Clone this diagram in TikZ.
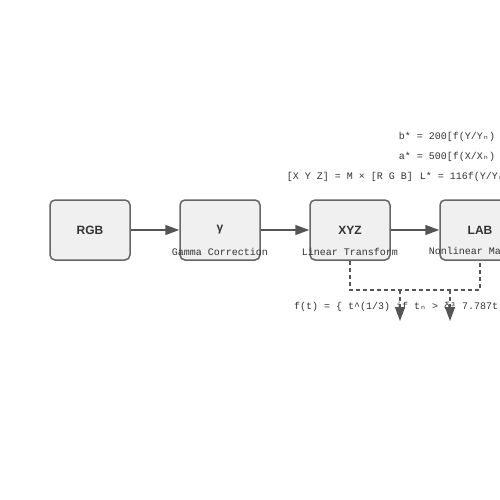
\documentclass[tikz,border=0pt]{standalone}
\usepackage{fontspec}
\setmainfont{Liberation Sans}
\newfontfamily\monof{Liberation Mono}
\newfontfamily\dvm{DejaVu Sans Mono}
\usetikzlibrary{arrows.meta}
\definecolor{boxfill}{HTML}{F0F0F0}
\definecolor{boxline}{HTML}{666666}
\definecolor{txt}{HTML}{333333}
\definecolor{arr}{HTML}{555555}
\newcommand{\sbn}{{\dvm ₙ}}
\begin{document}
\begin{tikzpicture}[x=1pt,y=-1pt,
  stage/.style={draw=boxline, line width=1.5pt, fill=boxfill, rounded corners=5pt,
    minimum width=80pt, minimum height=60pt, inner sep=0pt,
    font=\fontsize{12}{14}\selectfont\bfseries, text=txt},
  sub/.style={font=\monof\fontsize{10}{12}\selectfont, text=txt, inner sep=0pt},
  formula/.style={font=\monof\fontsize{10}{12}\selectfont, text=txt, inner sep=0pt},
  flow/.style={draw=arr, line width=1.5pt, -{Triangle[length=14pt,width=10pt]}},
  dashline/.style={draw=arr, line width=1.2pt, dash pattern=on 4pt off 3pt},
  dashar/.style={draw=arr, line width=1.2pt, dash pattern=on 4pt off 3pt, -{Triangle[length=14pt,width=10pt]}}
]
\useasboundingbox (0,0) rectangle (500,500);
\begin{scope}
\clip (0,0) rectangle (500,500);
\node[stage] (rgb) at (90,230) {RGB};
\node[stage] (gam) at (220,230) {γ};
\node[stage] (xyz) at (350,230) {XYZ};
\node[stage] (lab) at (480,230) {LAB};

\node[sub] (gamL) at (220,252) {Gamma Correction};
\node[sub] (xyzL) at (350,252) {Linear Transform};
\node[sub] (labL) at (480,252) {Nonlinear Mapping};

\node[formula] (fm) at (350,177) {[X Y Z] = M × [R G B]};
\node[formula] (fl) at (480,177) {L* = 116f(Y/Y\sbn) - 16};
\node[formula] (fa) at (480,157) {a* = 500[f(X/X\sbn) - f(Y/Y\sbn)]};
\node[formula] (fb) at (480,137) {b* = 200[f(Y/Y\sbn) - f(Z/Z\sbn)]};

\node[formula, anchor=west] (ft) at (294,307) {f(t) = \{ t\textasciicircum(1/3) if t\sbn{} > δ³ 7.787t + 16/116 \}};

\draw[flow] (rgb.east) -- (gam.west);
\draw[flow] (gam.east) -- (xyz.west);
\draw[flow] (xyz.east) -- (lab.west);

\coordinate (c1) at (350,290);
\coordinate (c2) at (480,290);
\coordinate (d1) at (400,290);
\coordinate (d2) at (450,290);
\coordinate (e1) at (400,321);
\coordinate (e2) at (450,321);
\draw[dashline] (xyz.south) -- (c1) -- (c2) -- (lab.south);
\draw[dashar] (d1) -- (e1);
\draw[dashar] (d2) -- (e2);
\end{scope}
\end{tikzpicture}
\end{document}
